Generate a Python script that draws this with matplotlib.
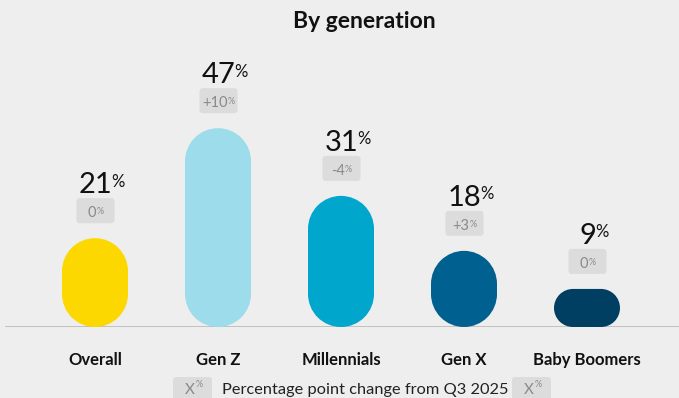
import numpy as np
import matplotlib
matplotlib.use("Agg")
import matplotlib.pyplot as plt
from matplotlib.path import Path
from matplotlib.patches import PathPatch, FancyBboxPatch
from matplotlib import transforms

# ---- data ----
categories = ["Overall", "Gen Z", "Millennials", "Gen X", "Baby Boomers"]
shares = [21, 47, 31, 18, 9]          # percent
changes = [0, 10, -4, 3, 0]           # percentage-point change from Q3 2025
colors = ["#FDD800", "#9CDCEB", "#00A6CC", "#00608F", "#003F62"]

title = "By generation"
legend_text = "Percentage point change from Q3 2025"

BG = "#EEEEEE"
BOX = "#DCDCDC"
BOX_TXT = "#8A8A8A"
FONT = "Lato"

plt.rcParams["font.family"] = [FONT, "DejaVu Sans"]

W, H = 679, 398
fig = plt.figure(figsize=(W / 100, H / 100), dpi=100, facecolor=BG)

# axes geometry in pixels
ax_left, ax_right = 5, 679
ax_base = 327
px_per_pct = 4.23
ymax = 60
ax_h = ymax * px_per_pct
ax = fig.add_axes([ax_left / W, (H - ax_base) / H, (ax_right - ax_left) / W, ax_h / H])
ax.set_facecolor(BG)

slot = 123.0        # px between category centres
first_c = 95.0      # px of first centre
ax.set_xlim((ax_left - first_c) / slot, (ax_right - first_c) / slot)
ax.set_ylim(0, ymax)
for s in ax.spines.values():
    s.set_visible(False)
ax.tick_params(axis="y", left=False, labelleft=False)

bar_w = 66 / slot
xlim = ax.get_xlim()
ylim = ax.get_ylim()
aspect = ((ylim[1] - ylim[0]) / ax_h) / ((xlim[1] - xlim[0]) / (ax_right - ax_left))


def pill_path(xc, w, h, aspect):
    """Stadium-shaped bar from y=0 to y=h centred on xc (data units)."""
    x0 = xc - w / 2
    hh = h / aspect
    r = min(w / 2, hh / 2)
    corners = [(x0 + w - r, r, 270, 360), (x0 + w - r, hh - r, 0, 90),
               (x0 + r, hh - r, 90, 180), (x0 + r, r, 180, 270)]
    verts, codes = [], []
    for k, (cx, cy, t1, t2) in enumerate(corners):
        arc = Path.arc(t1, t2)
        v = arc.vertices * r + [cx, cy]
        c = arc.codes.copy()
        if k > 0:
            c[0] = Path.LINETO
        verts.extend(v.tolist())
        codes.extend(c.tolist())
    verts.append(verts[0])
    codes.append(Path.CLOSEPOLY)
    verts = np.array(verts)
    verts[:, 1] *= aspect
    return Path(verts, codes)


ax.axhline(0, color="#BDBDBD", lw=1.3, zorder=1)

px = 72 / 100  # points per pixel

for i, (cat, v, ch, col) in enumerate(zip(categories, shares, changes, colors)):
    ax.add_patch(PathPatch(pill_path(i, bar_w, v, aspect), facecolor=col,
                           edgecolor="none", zorder=2))

    # big value label
    num = ax.annotate(f"{v}", xy=(i, v), xytext=(1 * px, 45 * px),
                      textcoords="offset points", ha="center", va="baseline",
                      fontsize=21, color="#111111")
    ax.annotate("%", xy=(1, 1), xycoords=num, xytext=(-1.2 * px, -1.5 * px),
                textcoords="offset points", ha="left", va="top",
                fontsize=12, color="#111111")

    # change badge (pixel offsets above the bar top)
    anchor = transforms.ScaledTranslation(i, v, ax.transData)
    badge = FancyBboxPatch((-18.5, 15), 38, 25,
                           boxstyle="round,pad=0,rounding_size=3",
                           transform=transforms.IdentityTransform() + anchor,
                           facecolor=BOX, edgecolor="none", zorder=3)
    ax.add_artist(badge)
    label = "0" if ch == 0 else f"{ch:+d}"
    t = ax.annotate(label, xy=(i, v), xytext=(-3 * px, 21 * px),
                    textcoords="offset points", ha="center", va="baseline",
                    fontsize=10.5, color=BOX_TXT, zorder=4)
    ax.annotate("%", xy=(1, 1), xycoords=t, xytext=(0, -1 * px),
                textcoords="offset points", ha="left", va="top",
                fontsize=6.5, color=BOX_TXT, zorder=4)

ax.set_xticks(range(len(categories)))
ax.set_xticklabels(categories, fontsize=12, fontweight="bold", color="#111111")
ax.tick_params(axis="x", length=0, pad=18)

# title
fig.text(364 / W, (H - 27.5) / H, title, ha="center", va="baseline",
         fontsize=16.5, fontweight="bold", color="#111111")


# legend strip along the bottom edge
def legend_badge(x0):
    fig.add_artist(FancyBboxPatch((x0, -6), 39, 27,
                                  boxstyle="round,pad=0,rounding_size=3",
                                  transform=transforms.IdentityTransform(),
                                  facecolor=BOX, edgecolor="none", zorder=5))
    fig.text((x0 + 17) / W, (H - 394) / H, "X", ha="center", va="baseline",
             fontsize=11, color=BOX_TXT, zorder=6)
    fig.text((x0 + 23) / W, (H - 387) / H, "%", ha="left", va="baseline",
             fontsize=6.5, color=BOX_TXT, zorder=6)


fig.text(222 / W, (H - 394) / H, legend_text, ha="left", va="baseline",
         fontsize=11.8, color="#222222", zorder=4)
legend_badge(173)
legend_badge(512)

fig.savefig("out.png", dpi=100, facecolor=BG)
